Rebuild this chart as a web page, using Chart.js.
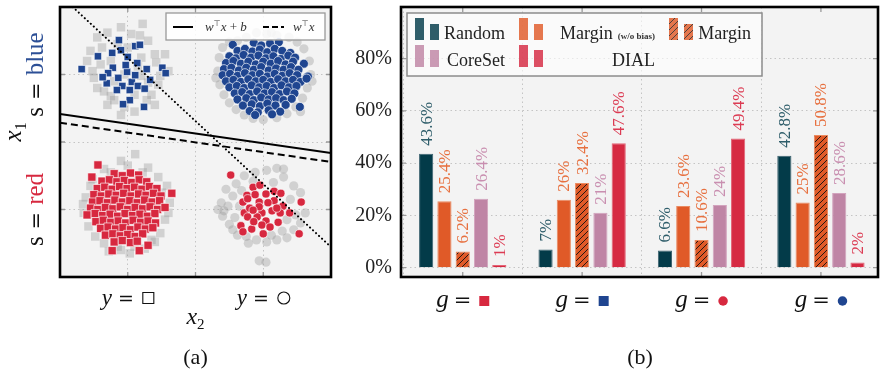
<!DOCTYPE html>
<html>
<head>
<meta charset="utf-8">
<script src="https://cdn.jsdelivr.net/npm/chart.js@4.4.1/dist/chart.umd.min.js"></script>
<style>
  html, body { margin: 0; padding: 0; background: #fff; }
  #wrap { position: relative; width: 880px; height: 372px; overflow: hidden; }
  canvas { position: absolute; top: 0; }
  #left { left: 0; }
  #right { left: 345px; }
</style>
</head>
<body>
<div id="wrap">
  <canvas id="left" width="345" height="372"></canvas>
  <canvas id="right" width="535" height="372"></canvas>
</div>
<script>
// ---------------- (a) toy data: x2 horizontal, x1 vertical ----------------
const gridStops = [0, 1, 2];
const classCentres = [0, 2];               // y = square, y = circle
const classShapes = ['square', 'circle'];
const sensCentres = [2, 0];                // s = blue, s = red
const sensNames = ['blue', 'red'];

const blueSquares = [
  [-0.13,2.51],[0.11,2.42],[0.18,2.44],[-0.44,2.27],[-0.23,2.32],[-0.10,2.36],[0.00,2.26],
  [0.14,2.17],[-0.22,2.10],[-0.68,2.08],[-0.29,2.02],[-0.01,2.04],[0.28,2.08],[0.51,2.10],
  [0.56,2.02],[-0.14,1.95],[0.06,1.89],[-0.31,1.87],[-0.08,1.83],[0.15,1.83],[0.25,1.79],
  [0.03,1.77],[0.03,1.62],[-0.07,1.56],[0.24,1.52],[-0.16,1.77],[0.11,1.99],[-0.03,2.14],
  [-0.37,1.96],[0.33,1.92]
];
const graySquaresBlue = [
  [-0.45,2.55],[-0.30,2.62],[0.22,2.75],[0.05,2.60],[-0.55,2.35],[-0.40,2.15],[-0.50,1.95],
  [-0.35,1.75],[-0.20,1.62],[-0.10,1.40],[0.10,1.45],[0.35,1.70],[0.45,1.85],[0.60,2.05],
  [0.40,2.30],[0.30,2.50],[-0.15,2.45],[0.00,2.40],[0.20,2.25],[-0.25,2.20],[-0.05,2.00],
  [0.20,1.98],[-0.20,1.90],[0.10,1.70],[-0.30,1.55],[0.40,1.55],[-0.60,2.20],[0.55,2.30],
  [-0.10,2.70],[0.15,2.12],[-0.45,1.80],[0.30,1.88],[-0.38,2.40],[0.18,2.58],[-0.52,2.05],
  [0.48,1.98],[-0.25,1.68],[0.28,1.62],[-0.05,1.52],[0.42,2.18]
];
const blueCircles = [
  [1.55,2.44],[1.86,2.47],[1.97,2.43],[2.10,2.46],[2.23,2.48],
  [1.62,2.35],[1.73,2.38],[1.84,2.34],[1.95,2.37],[2.06,2.33],[2.17,2.38],[2.28,2.35],[2.40,2.32],
  [1.50,2.27],[1.60,2.24],[1.71,2.29],[1.82,2.25],[1.93,2.28],[2.04,2.24],[2.15,2.27],[2.26,2.23],[2.37,2.28],[2.47,2.25],
  [1.45,2.17],[1.56,2.20],[1.67,2.16],[1.78,2.19],[1.89,2.15],[2.00,2.19],[2.11,2.16],[2.22,2.20],[2.33,2.15],[2.44,2.19],[2.60,2.16],
  [1.42,2.08],[1.53,2.10],[1.64,2.06],[1.75,2.10],[1.86,2.07],[1.97,2.11],[2.08,2.06],[2.19,2.09],[2.30,2.07],[2.41,2.11],[2.52,2.07],
  [1.40,1.99],[1.51,2.01],[1.62,1.98],[1.73,2.02],[1.84,1.99],[1.95,2.01],[2.06,1.97],[2.17,2.01],[2.28,1.98],[2.39,2.02],[2.50,1.99],[2.66,1.97],
  [1.45,1.90],[1.56,1.92],[1.67,1.89],[1.78,1.93],[1.89,1.90],[2.00,1.92],[2.11,1.89],[2.22,1.93],[2.33,1.90],[2.44,1.92],[2.55,1.89],[2.64,1.94],
  [1.50,1.81],[1.61,1.83],[1.72,1.80],[1.83,1.84],[1.94,1.81],[2.05,1.83],[2.16,1.80],[2.27,1.84],[2.38,1.81],[2.49,1.83],
  [1.58,1.72],[1.69,1.74],[1.80,1.71],[1.91,1.75],[2.02,1.72],[2.13,1.74],[2.24,1.71],[2.35,1.75],[2.46,1.72],
  [1.62,1.63],[1.75,1.65],[1.86,1.62],[1.97,1.66],[2.08,1.63],[2.19,1.65],[2.30,1.62],[2.42,1.64],
  [1.70,1.54],[1.83,1.56],[1.95,1.53],[2.06,1.57],[2.18,1.54],[2.33,1.55],[2.54,1.52],
  [1.80,1.46],[1.92,1.44],[2.08,1.47],[2.25,1.45],[1.88,1.40],[2.13,1.41]
];
const grayCirclesBlue = [
  [1.40,2.40],[1.35,2.25],[1.33,2.05],[1.36,1.85],[1.42,1.70],[1.50,1.58],[1.60,1.48],[1.72,1.40],
  [1.85,1.35],[2.00,1.33],[2.20,1.36],[2.35,1.42],[2.48,1.52],[2.58,1.65],[2.65,1.80],[2.70,2.00],
  [2.68,2.20],[2.60,2.38],[2.50,2.48],[2.38,2.55],[2.20,2.58],[2.05,2.60],[1.90,2.62],[1.75,2.55],
  [1.62,2.50],[1.50,2.48],[2.12,2.62],[1.30,1.95],[2.72,1.90],[2.55,1.45]
];
const redSquares = [
  [-0.20,0.53],[-0.08,0.50],[0.04,0.54],[0.16,0.51],
  [-0.38,0.42],[-0.27,0.44],[-0.16,0.41],[-0.05,0.43],[0.06,0.40],[0.17,0.44],[0.28,0.41],
  [-0.45,0.31],[-0.34,0.33],[-0.23,0.30],[-0.12,0.34],[-0.01,0.31],[0.10,0.33],[0.21,0.30],[0.32,0.34],[0.43,0.31],
  [-0.50,0.22],[-0.39,0.20],[-0.28,0.23],[-0.17,0.21],[-0.06,0.24],[0.05,0.20],[0.16,0.23],[0.27,0.21],[0.38,0.24],[0.49,0.20],
  [-0.52,0.11],[-0.41,0.13],[-0.30,0.10],[-0.19,0.14],[-0.08,0.11],[0.03,0.13],[0.14,0.10],[0.25,0.14],[0.36,0.11],[0.47,0.13],
  [-0.55,0.02],[-0.44,0.00],[-0.33,0.03],[-0.22,0.01],[-0.11,0.04],[0.00,0.00],[0.11,0.03],[0.22,0.01],[0.33,0.04],[0.44,0.00],[0.55,0.03],
  [-0.60,-0.08],[-0.48,-0.06],[-0.37,-0.09],[-0.26,-0.07],[-0.15,-0.10],[-0.04,-0.06],[0.07,-0.09],[0.18,-0.07],[0.29,-0.10],[0.40,-0.06],
  [-0.47,-0.18],[-0.36,-0.16],[-0.25,-0.19],[-0.14,-0.17],[-0.03,-0.20],[0.08,-0.16],[0.19,-0.19],[0.30,-0.17],[0.41,-0.20],
  [-0.40,-0.28],[-0.29,-0.26],[-0.18,-0.29],[-0.07,-0.27],[0.04,-0.30],[0.15,-0.26],[0.26,-0.29],[0.37,-0.27],
  [-0.33,-0.38],[-0.22,-0.36],[-0.11,-0.39],[0.00,-0.37],[0.11,-0.40],[0.22,-0.36],
  [-0.20,-0.48],[-0.08,-0.46],[0.04,-0.49],[0.14,-0.47],
  [-0.44,0.66],[-0.53,0.48],[0.65,0.24],[-0.23,-0.61],[0.30,-0.53],[0.17,-0.61]
];
const graySquaresRed = [
  [0.11,0.82],[-0.10,0.72],[0.30,0.62],[-0.35,0.60],[0.45,0.48],[-0.55,0.35],[0.58,0.35],[-0.62,0.18],
  [0.62,0.10],[-0.65,-0.05],[0.55,-0.15],[-0.58,-0.25],[0.48,-0.35],[-0.48,-0.40],[0.40,-0.48],[-0.35,-0.50],
  [0.25,-0.58],[-0.10,-0.60],[0.03,-0.65],[-0.28,-0.62],[0.00,0.65],[0.22,0.55],[-0.25,0.55],[0.35,-0.45],
  [-0.15,-0.55],[0.60,-0.05],[-0.66,0.08],[0.10,-0.55],[0.50,0.25],[-0.52,0.45]
];
const redCircles = [
  [1.52,0.51],[1.85,0.33],[1.95,0.36],[2.16,0.27],[2.26,0.24],[1.76,0.21],[2.04,0.23],[1.70,0.11],
  [1.77,0.16],[1.94,0.11],[2.16,0.13],[2.29,0.05],[2.39,-0.05],[2.56,0.11],[1.72,-0.05],[1.80,0.02],
  [1.98,-0.05],[2.13,-0.02],[1.77,-0.11],[1.91,-0.11],[2.04,-0.17],[2.22,-0.19],[1.67,-0.24],[1.83,-0.29],
  [2.00,-0.36],[1.70,-0.33],[2.53,-0.36],[1.94,0.04],[2.07,0.10],[1.85,-0.01],[2.25,-0.05],[1.98,-0.23],
  [2.10,-0.26],[1.88,0.22],[2.20,0.02],[1.86,-0.18]
];
const grayCirclesRed = [
  [1.45,0.30],[1.38,0.10],[1.33,0.00],[1.40,-0.10],[1.50,-0.22],[1.55,0.20],[1.60,0.38],[1.72,0.50],
  [1.88,0.55],[2.05,0.58],[2.20,0.61],[2.30,0.48],[2.45,0.35],[2.55,0.25],[2.62,-0.05],[2.55,-0.20],
  [2.45,-0.30],[2.35,-0.42],[2.20,-0.45],[2.05,-0.48],[1.90,-0.45],[1.75,-0.40],[1.62,-0.38],[1.55,-0.30],
  [1.94,-0.76],[2.04,-0.78],[2.30,0.60],[2.40,0.15],[2.15,0.40],[1.65,0.05],[2.35,-0.15],[1.85,0.42],
  [2.12,-0.38],[1.48,0.05],[1.78,-0.50],[1.42,-0.02],[1.58,-0.12],[2.48,-0.08],[2.28,-0.32],[1.68,0.28]
];
// decision boundaries, as end points
const boundaryWithBias = [[-1, 1.415], [3, 0.837]];
const boundaryNoBias = [[-1, 1.286], [3, 0.704]];
const dottedBoundary = [[-0.812, 3], [3, -0.556]];

// ---------------- (b) share of each group in the selected samples ----------------
const groupSide = ['red', 'blue', 'red', 'blue'];
const groupShape = ['square', 'square', 'circle', 'circle'];
const seriesNames = ['Random', 'Margin (w/o bias)', 'Margin', 'CoreSet', 'DIAL'];
const randomVals = [43.6, 7, 6.6, 42.8];
const marginNoBiasVals = [25.4, 26, 23.6, 25];
const marginVals = [6.2, 32.4, 10.6, 50.8];
const coresetVals = [26.4, 21, 24, 28.6];
const dialVals = [1, 47.6, 49.4, 2];
const percentTicks = [0, 20, 40, 60, 80];

// ---------------- styling ----------------
const SERIF = '"Liberation Serif", "DejaVu Serif", serif';
const EQ = '"DejaVu Serif", serif';
const sideColour = { blue: '#1f4590', red: '#d7283f' };
const sideText = { blue: '#2c4f96', red: '#d7283f' };
const barColours = ['#033b49', '#e05a28', '#e05a28', '#bf85a5', '#d62a42'];
const labelColours = ['#2e5d6a', '#e7703f', '#e7703f', '#c98fb0', '#dc3b53'];
const edgeColours = ['#3d6370', '#ea8a60', '#ea8a60', '#d2a3bd', '#e36476'];
const plotBg = '#f3f3f3';
const gridColour = '#c4c4c4';

const toXY = pairs => pairs.map(([x, y]) => ({ x, y }));

function measureRuns(ctx, runs) {
  let w = 0;
  for (const r of runs) {
    if (r.gap) w += r.gap;
    else if (r.shape) w += r.size;
    else { ctx.font = r.font; w += ctx.measureText(r.t).width; }
  }
  return w;
}
function drawRuns(ctx, runs, x, baseline, align) {
  const total = measureRuns(ctx, runs);
  let cx = align === 'right' ? x - total : align === 'left' ? x : x - total / 2;
  ctx.textAlign = 'left';
  ctx.textBaseline = 'alphabetic';
  for (const r of runs) {
    if (r.gap) { cx += r.gap; continue; }
    if (r.shape) {
      const mx = cx + r.size / 2, my = baseline + (r.dy || 0);
      ctx.beginPath();
      if (r.shape === 'square') ctx.rect(mx - r.size / 2, my - r.size / 2, r.size, r.size);
      else ctx.arc(mx, my, r.size / 2, 0, Math.PI * 2);
      if (r.fill) { ctx.fillStyle = r.fill; ctx.fill(); }
      else { ctx.strokeStyle = '#111'; ctx.lineWidth = 1.1; ctx.stroke(); }
      cx += r.size;
      continue;
    }
    ctx.font = r.font;
    ctx.fillStyle = r.color || '#111';
    ctx.fillText(r.t, cx, baseline + (r.dy || 0));
    cx += ctx.measureText(r.t).width;
  }
}

function zeroPad(s) { s.paddingTop = s.paddingBottom = s.paddingLeft = s.paddingRight = 0; }
const fixTicks = values => axis => { axis.ticks = values.map(v => ({ value: v })); };

const plotBackground = {
  id: 'plotBackground',
  beforeDraw(chart) {
    const { ctx, chartArea: a } = chart;
    ctx.save();
    ctx.fillStyle = plotBg;
    ctx.fillRect(a.left, a.top, a.right - a.left, a.bottom - a.top);
    ctx.restore();
  }
};

function drawFrame(chart, xs, ys) {
  const { ctx, chartArea: a } = chart;
  const L = 5;
  ctx.save();
  ctx.strokeStyle = '#9a9a9a';
  ctx.lineWidth = 1.3;
  ctx.beginPath();
  for (const v of xs) {
    const p = chart.scales.x.getPixelForValue(v);
    ctx.moveTo(p, a.top); ctx.lineTo(p, a.top + L);
    ctx.moveTo(p, a.bottom); ctx.lineTo(p, a.bottom - L);
  }
  for (const v of ys) {
    const p = chart.scales.y.getPixelForValue(v);
    ctx.moveTo(a.left, p); ctx.lineTo(a.left + L, p);
    ctx.moveTo(a.right, p); ctx.lineTo(a.right - L, p);
  }
  ctx.stroke();
  ctx.strokeStyle = '#000';
  ctx.lineWidth = 2.6;
  ctx.strokeRect(a.left, a.top, a.right - a.left, a.bottom - a.top);
  ctx.restore();
}

// ---------------- panel (a) ----------------
function boundary(points, dash, cap) {
  return {
    data: toXY(points), showLine: true, pointRadius: 0, borderColor: '#000',
    borderWidth: 2, borderDash: dash, borderCapStyle: cap || 'butt', fill: false, order: 0
  };
}
function cloud(points, style, radius, fillColour, outlined, order) {
  return {
    data: toXY(points), pointStyle: style, pointRadius: radius,
    backgroundColor: fillColour,
    borderColor: outlined ? 'rgba(255,255,255,0.8)' : 'rgba(0,0,0,0)',
    borderWidth: outlined ? 0.8 : 0, showLine: false, order
  };
}
const grayFill = 'rgba(150,150,150,0.36)';

const panelA = {
  id: 'panelA',
  afterDraw(chart) {
    const { ctx } = chart;
    drawFrame(chart, gridStops, gridStops);
    const xs = chart.scales.x, ys = chart.scales.y;
    ctx.save();
    // class labels under the plot
    classCentres.forEach((c, i) => {
      drawRuns(ctx, [
        { t: 'y', font: 'italic 23px ' + SERIF },
        { gap: 6 },
        { t: '=', font: '19px ' + EQ },
        { gap: 9 },
        { shape: classShapes[i], size: classShapes[i] === 'square' ? 11 : 12, dy: -7 }
      ], xs.getPixelForValue(c), 305);
    });
    drawRuns(ctx, [
      { t: 'x', font: 'italic 24px ' + SERIF },
      { t: '2', font: '15px ' + SERIF, dy: 5 }
    ], xs.getPixelForValue(1), 324);
    drawRuns(ctx, [{ t: '(a)', font: '22px ' + SERIF }], xs.getPixelForValue(1), 364);

    // rotated labels on the left
    sensCentres.forEach((c, i) => {
      ctx.save();
      ctx.translate(43, ys.getPixelForValue(c));
      ctx.rotate(-Math.PI / 2);
      drawRuns(ctx, [
        { t: 's', font: '25px ' + SERIF },
        { gap: 7 },
        { t: '=', font: '21px ' + EQ },
        { gap: 7 },
        { t: sensNames[i], font: '25px ' + SERIF, color: sideText[sensNames[i]] }
      ], 0, 0);
      ctx.restore();
    });
    ctx.save();
    ctx.translate(21, ys.getPixelForValue(1.15));
    ctx.rotate(-Math.PI / 2);
    drawRuns(ctx, [
      { t: 'x', font: 'italic 25px ' + SERIF },
      { t: '1', font: '16px ' + SERIF, dy: 5 }
    ], 0, 0);
    ctx.restore();

    // legend of the boundaries
    ctx.fillStyle = 'rgba(255,255,255,0.85)';
    ctx.strokeStyle = '#999';
    ctx.lineWidth = 1.3;
    ctx.fillRect(166, 13, 159, 27);
    ctx.strokeRect(166, 13, 159, 27);
    ctx.strokeStyle = '#000';
    ctx.lineWidth = 2;
    ctx.beginPath(); ctx.moveTo(173, 27); ctx.lineTo(193, 27); ctx.stroke();
    ctx.setLineDash([6, 3]);
    ctx.beginPath(); ctx.moveTo(263, 27); ctx.lineTo(284, 27); ctx.stroke();
    ctx.setLineDash([]);
    const small = 'italic 13px ' + SERIF;
    drawRuns(ctx, [
      { t: 'w', font: small, color: '#333' }, { t: '\u22A4', font: '8px "DejaVu Sans"', dy: -5, color: '#333' },
      { t: 'x', font: small, color: '#333' }, { t: ' + ', font: '13px ' + SERIF, color: '#333' },
      { t: 'b', font: small, color: '#333' }
    ], 205, 31, 'left');
    drawRuns(ctx, [
      { t: 'w', font: small, color: '#333' }, { t: '\u22A4', font: '8px "DejaVu Sans"', dy: -5, color: '#333' },
      { t: 'x', font: small, color: '#333' }
    ], 293, 31, 'left');
    ctx.restore();
  }
};

new Chart(document.getElementById('left'), {
  type: 'scatter',
  data: {
    datasets: [
      boundary(boundaryWithBias, []),
      boundary(boundaryNoBias, [7, 4]),
      boundary(dottedBoundary, [0.1, 4], 'round'),
      cloud(blueSquares, 'rect', 5.2, sideColour.blue, true, 1),
      cloud(blueCircles, 'circle', 4.5, sideColour.blue, true, 1),
      cloud(redSquares, 'rect', 5.8, sideColour.red, true, 1),
      cloud(redCircles, 'circle', 4.1, sideColour.red, true, 1),
      cloud(graySquaresBlue, 'rect', 6, grayFill, false, 2),
      cloud(grayCirclesBlue, 'circle', 4.6, grayFill, false, 2),
      cloud(graySquaresRed, 'rect', 6, grayFill, false, 2),
      cloud(grayCirclesRed, 'circle', 4.6, grayFill, false, 2)
    ]
  },
  options: {
    responsive: false, animation: false, devicePixelRatio: 1, events: [],
    layout: { padding: { left: 60, right: 14, top: 7, bottom: 95 }, autoPadding: false },
    plugins: { legend: { display: false }, tooltip: { enabled: false } },
    scales: {
      x: {
        type: 'linear', min: -1, max: 3, afterBuildTicks: fixTicks(gridStops),
        ticks: { display: false },
        grid: { color: gridColour, drawTicks: false, lineWidth: 1 },
        border: { display: false, dash: [1.5, 3] },
        afterFit: s => { s.height = 0; zeroPad(s); }
      },
      y: {
        type: 'linear', min: -1, max: 3, afterBuildTicks: fixTicks(gridStops),
        ticks: { display: false },
        grid: { color: gridColour, drawTicks: false, lineWidth: 1 },
        border: { display: false, dash: [1.5, 3] },
        afterFit: s => { s.width = 0; zeroPad(s); }
      }
    }
  },
  plugins: [plotBackground, panelA]
});

// ---------------- panel (b) ----------------
const rightCanvas = document.getElementById('right');
function hatchPattern(bg) {
  const n = 6;
  const c = document.createElement('canvas');
  c.width = c.height = n;
  const g = c.getContext('2d');
  g.fillStyle = bg;
  g.fillRect(0, 0, n, n);
  g.strokeStyle = '#111';
  g.lineWidth = 0.9;
  g.beginPath();
  g.moveTo(0, n); g.lineTo(n, 0);
  g.moveTo(-1, 1); g.lineTo(1, -1);
  g.moveTo(n - 1, n + 1); g.lineTo(n + 1, n - 1);
  g.stroke();
  return rightCanvas.getContext('2d').createPattern(c, 'repeat');
}
const hatchedMargin = hatchPattern(barColours[2]);
const seriesValues = [randomVals, marginNoBiasVals, marginVals, coresetVals, dialVals];
const hatched = [false, false, true, false, false];
const groupIdx = groupSide.map((_, j) => j);

const legendSlots = [[0, 0], [1, 0], [2, 0], [0, 1], [1, 1]];
const legendCols = [{ patch: 70, right: 160 }, { patch: 174, right: 310 }, { patch: 324, right: 406 }];
const legendRows = [{ top: 18, top2: 24, bottom: 40, base: 39 }, { top: 45, top2: 50, bottom: 67, base: 66 }];

const panelB = {
  id: 'panelB',
  afterDatasetsDraw(chart) {
    const { ctx } = chart;
    ctx.save();
    chart.data.datasets.forEach((ds, i) => {
      const meta = chart.getDatasetMeta(i);
      meta.data.forEach((bar, j) => {
        ctx.save();
        ctx.translate(bar.x + 5.5, bar.y - 8);
        ctx.rotate(-Math.PI / 2);
        ctx.font = '17px ' + SERIF;
        ctx.fillStyle = labelColours[i];
        ctx.textAlign = 'left';
        ctx.textBaseline = 'alphabetic';
        ctx.fillText(seriesValues[i][j] + '%', 0, 0);
        ctx.restore();
      });
    });
    ctx.restore();
  },
  afterDraw(chart) {
    const { ctx } = chart;
    drawFrame(chart, groupIdx, percentTicks);
    const xs = chart.scales.x;
    ctx.save();
    groupIdx.forEach(j => {
      const sq = groupShape[j] === 'square';
      drawRuns(ctx, [
        { t: 'g', font: 'italic 25px ' + SERIF },
        { gap: 5 },
        { t: '=', font: '21px ' + EQ },
        { gap: 8 },
        { shape: groupShape[j], size: sq ? 10 : 9.5, fill: sideColour[groupSide[j]], dy: -6 }
      ], xs.getPixelForValue(j), 307);
    });
    drawRuns(ctx, [{ t: '(b)', font: '22px ' + SERIF }], 295, 364);

    // legend: two swatches per entry, label right-aligned in its column
    ctx.fillStyle = 'rgba(255,255,255,0.6)';
    ctx.fillRect(62, 13, 355, 63);
    ctx.strokeStyle = '#8c8c8c';
    ctx.lineWidth = 1.5;
    ctx.strokeRect(62, 13, 355, 63);
    seriesNames.forEach((name, i) => {
      const [c, r] = legendSlots[i];
      const col = legendCols[c], row = legendRows[r];
      const fill = hatched[i] ? hatchedMargin : barColours[i];
      ctx.globalAlpha = 0.82;
      ctx.fillStyle = fill;
      ctx.fillRect(col.patch, row.top, 9, row.bottom - row.top);
      ctx.fillRect(col.patch + 15, row.top2, 9, row.bottom - row.top2);
      ctx.globalAlpha = 1;
      const k = name.indexOf(' (');
      const runs = k < 0
        ? [{ t: name, font: '18px ' + SERIF, color: '#222' }]
        : [{ t: name.slice(0, k), font: '18px ' + SERIF, color: '#222' },
           { gap: 5 },
           { t: name.slice(k + 1), font: 'bold 9px ' + SERIF, color: '#333' }];
      drawRuns(ctx, runs, col.right, row.base, 'right');
    });
    ctx.restore();
  }
};

new Chart(rightCanvas, {
  type: 'bar',
  data: {
    datasets: seriesNames.map((name, i) => ({
      label: name,
      data: seriesValues[i].map((v, j) => ({ x: j, y: v })),
      backgroundColor: hatched[i] ? hatchedMargin : barColours[i],
      borderColor: edgeColours[i],
      borderWidth: 1,
      categoryPercentage: 0.766,
      barPercentage: 0.775
    }))
  },
  options: {
    responsive: false, animation: false, devicePixelRatio: 1, events: [],
    layout: { padding: { left: 0, right: 2, top: 7, bottom: 95 }, autoPadding: false },
    plugins: { legend: { display: false }, tooltip: { enabled: false } },
    scales: {
      x: {
        type: 'linear', min: -0.517, max: 3.478, offset: false,
        afterBuildTicks: fixTicks(groupIdx),
        ticks: { display: false },
        grid: { color: gridColour, drawTicks: false, lineWidth: 1 },
        border: { display: false, dash: [1.5, 3] },
        afterFit: s => { s.height = 0; zeroPad(s); }
      },
      y: {
        type: 'linear', min: -3.55, max: 99.75,
        afterBuildTicks: fixTicks(percentTicks),
        ticks: { font: { family: SERIF, size: 20 }, color: '#222', padding: 9, callback: v => v + '%' },
        grid: { color: gridColour, drawTicks: false, lineWidth: 1 },
        border: { display: false, dash: [1.5, 3] },
        afterFit: s => { s.width = 56; zeroPad(s); }
      }
    }
  },
  plugins: [plotBackground, panelB]
});
</script>
</body>
</html>
